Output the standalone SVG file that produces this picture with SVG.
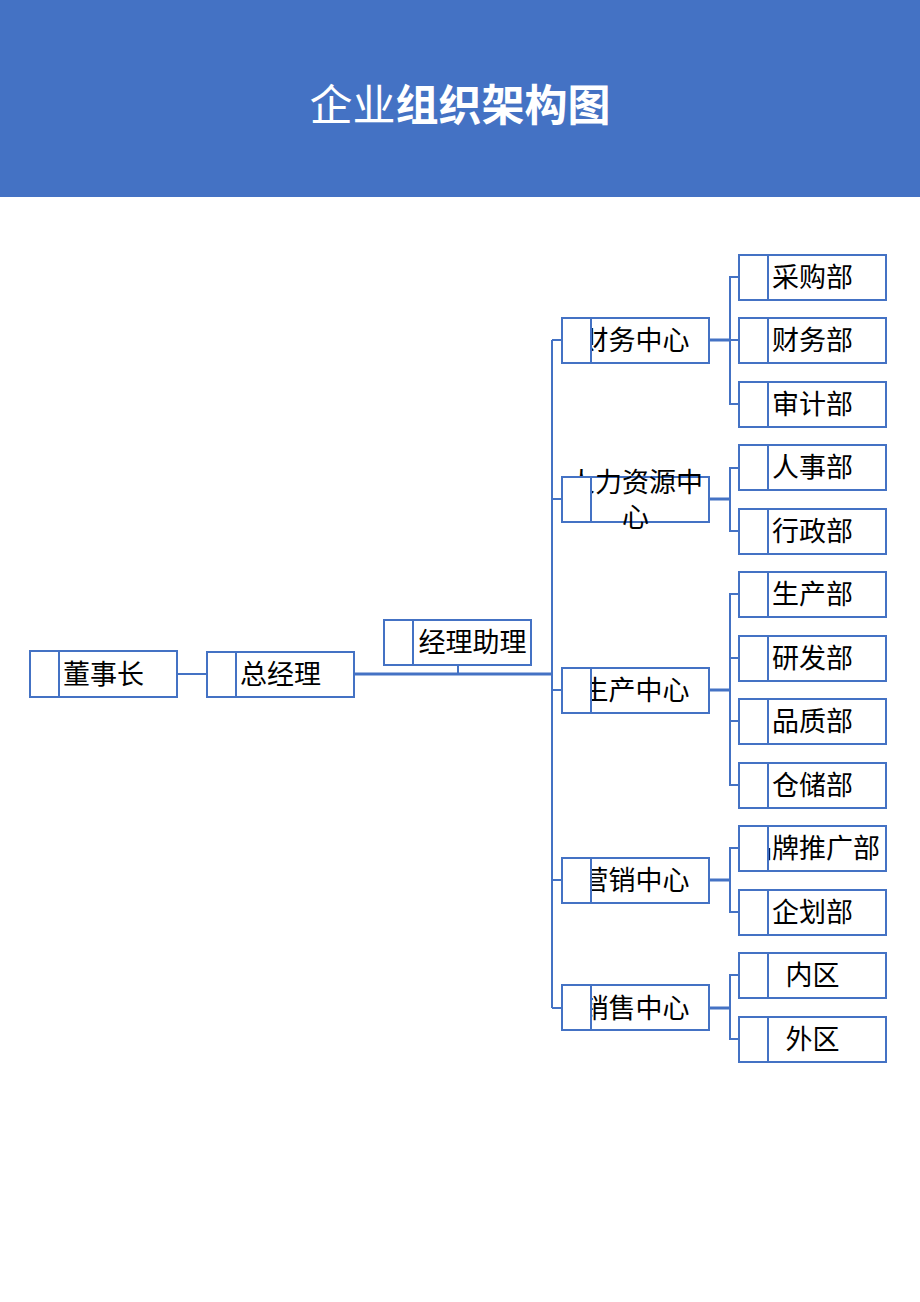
<svg xmlns="http://www.w3.org/2000/svg" width="920" height="1302" viewBox="0 0 920 1302">
<style>
.box{fill:#fff;stroke:#4472C4;stroke-width:2}
.sq{fill:#fff;stroke:#4472C4;stroke-width:2}
.t{font-family:"Noto Sans CJK SC","Noto Sans CJK JP",sans-serif;font-size:27px;fill:#000;text-anchor:middle;dominant-baseline:central}
.ln{fill:none;stroke:#4472C4;stroke-width:2}
.lnb{fill:none;stroke:#4472C4;stroke-width:3}
.title{font-family:"Noto Sans CJK SC","Noto Sans CJK JP",sans-serif;font-size:43px;fill:#fff;text-anchor:middle;dominant-baseline:central}
</style>
<rect x="0" y="0" width="920" height="197" fill="#4472C4"/>
<text class="title" x="460" y="102"><tspan font-weight="normal">企业</tspan><tspan font-weight="bold">组织架构图</tspan></text>

<g id="connectors">
<path class="ln" d="M177 674H207"/>
<path class="lnb" d="M354 674H552"/>
<path class="ln" d="M458 665V674"/>
<path class="ln" d="M552 340V1008"/>
<path class="ln" d="M552 340H562M552 499H562M552 690H562M552 880H562M552 1008H562"/>
<path class="lnb" d="M709 340H730M709 499H730M709 690H730M709 880H730M709 1008H730"/>
<path class="ln" d="M739 277H730V404H739M730 340H739"/>
<path class="ln" d="M739 468H730V531H739"/>
<path class="ln" d="M739 594H730V785H739M730 658H739M730 721H739"/>
<path class="ln" d="M739 848H730V912H739"/>
<path class="ln" d="M739 975H730V1039H739"/>
</g>

<g id="n-dsz"><rect class="box" x="30" y="651" width="147" height="46"/><text class="t" x="103.5" y="672">董事长</text><rect class="sq" x="30" y="651" width="29" height="46"/></g>
<g id="n-zjl"><rect class="box" x="207" y="652" width="147" height="45"/><text class="t" x="280.5" y="672">总经理</text><rect class="sq" x="207" y="652" width="29" height="45"/></g>
<g id="n-jlzl"><rect class="box" x="384" y="620" width="147" height="45"/><text class="t" x="472.5" y="640">经理助理</text><rect class="sq" x="384" y="620" width="29" height="45"/></g>

<g id="n-cwzx"><rect class="box" x="562" y="318" width="147" height="45"/><text class="t" x="635.5" y="338">财务中心</text><rect class="sq" x="562" y="318" width="29" height="45"/></g>
<g id="n-rlzy"><rect class="box" x="562" y="477" width="147" height="45"/><text class="t" x="635.5" y="480">人力资源中</text><text class="t" x="635.5" y="515">心</text><rect class="sq" x="562" y="477" width="29" height="45"/></g>
<g id="n-sczx"><rect class="box" x="562" y="668" width="147" height="45"/><text class="t" x="635.5" y="688">生产中心</text><rect class="sq" x="562" y="668" width="29" height="45"/></g>
<g id="n-yxzx"><rect class="box" x="562" y="858" width="147" height="45"/><text class="t" x="635.5" y="878">营销中心</text><rect class="sq" x="562" y="858" width="29" height="45"/></g>
<g id="n-xszx"><rect class="box" x="562" y="985" width="147" height="45"/><text class="t" x="635.5" y="1006">销售中心</text><rect class="sq" x="562" y="985" width="29" height="45"/></g>

<g id="d-cgb"><rect class="box" x="739" y="255" width="147" height="45"/><text class="t" x="812.5" y="275">采购部</text><rect class="sq" x="739" y="255" width="29" height="45"/></g>
<g id="d-cwb"><rect class="box" x="739" y="318" width="147" height="45"/><text class="t" x="812.5" y="338">财务部</text><rect class="sq" x="739" y="318" width="29" height="45"/></g>
<g id="d-sjb"><rect class="box" x="739" y="382" width="147" height="45"/><text class="t" x="812.5" y="402">审计部</text><rect class="sq" x="739" y="382" width="29" height="45"/></g>
<g id="d-rsb"><rect class="box" x="739" y="445" width="147" height="45"/><text class="t" x="812.5" y="465">人事部</text><rect class="sq" x="739" y="445" width="29" height="45"/></g>
<g id="d-xzb"><rect class="box" x="739" y="509" width="147" height="45"/><text class="t" x="812.5" y="529">行政部</text><rect class="sq" x="739" y="509" width="29" height="45"/></g>
<g id="d-scb"><rect class="box" x="739" y="572" width="147" height="45"/><text class="t" x="812.5" y="592">生产部</text><rect class="sq" x="739" y="572" width="29" height="45"/></g>
<g id="d-yfb"><rect class="box" x="739" y="636" width="147" height="45"/><text class="t" x="812.5" y="656">研发部</text><rect class="sq" x="739" y="636" width="29" height="45"/></g>
<g id="d-pzb"><rect class="box" x="739" y="699" width="147" height="45"/><text class="t" x="812.5" y="719">品质部</text><rect class="sq" x="739" y="699" width="29" height="45"/></g>
<g id="d-ccb"><rect class="box" x="739" y="763" width="147" height="45"/><text class="t" x="812.5" y="783">仓储部</text><rect class="sq" x="739" y="763" width="29" height="45"/></g>
<g id="d-pptgb"><rect class="box" x="739" y="826" width="147" height="45"/><text class="t" x="812.5" y="846">品牌推广部</text><rect class="sq" x="739" y="826" width="29" height="45"/></g>
<g id="d-qhb"><rect class="box" x="739" y="890" width="147" height="45"/><text class="t" x="812.5" y="910">企划部</text><rect class="sq" x="739" y="890" width="29" height="45"/></g>
<g id="d-nq"><rect class="box" x="739" y="953" width="147" height="45"/><text class="t" x="812.5" y="973">内区</text><rect class="sq" x="739" y="953" width="29" height="45"/></g>
<g id="d-wq"><rect class="box" x="739" y="1017" width="147" height="45"/><text class="t" x="812.5" y="1037">外区</text><rect class="sq" x="739" y="1017" width="29" height="45"/></g>
</svg>
